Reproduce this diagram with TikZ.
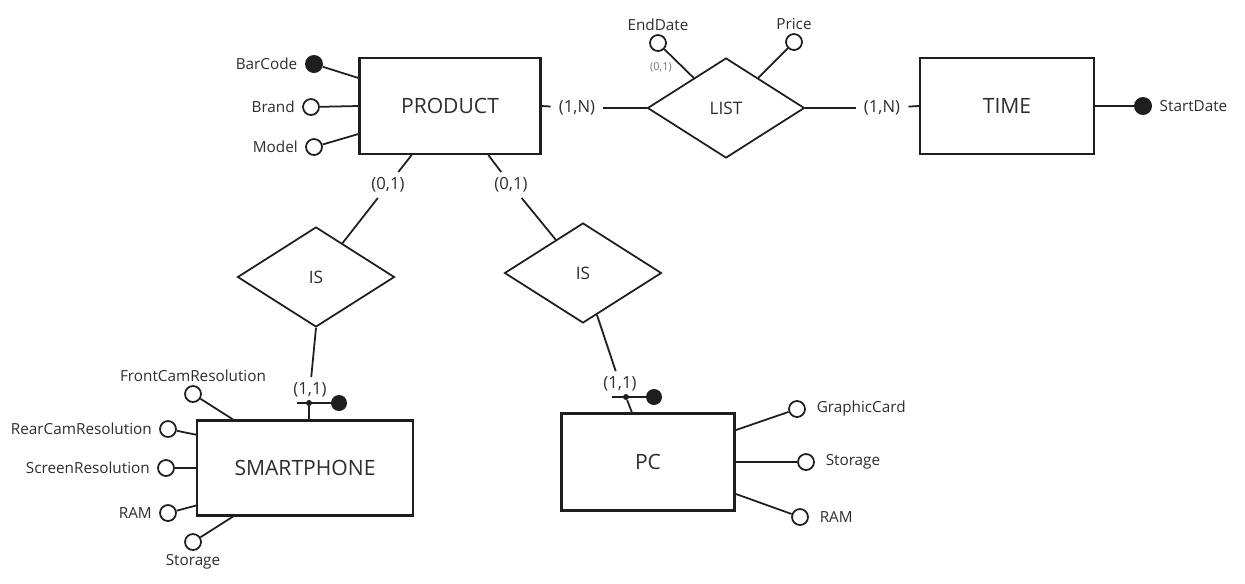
\documentclass[tikz,border=0pt]{standalone}
\usepackage{fontspec}
\setmainfont{Open Sans}
\usetikzlibrary{shapes.geometric,positioning,calc}
\definecolor{inkgray}{RGB}{30,30,30}
\definecolor{textgray}{RGB}{45,45,45}

\begin{document}
\begin{tikzpicture}[x=0.02cm, y=-0.02cm, text=textgray,
    entity/.style={draw=inkgray, line width=1.2pt, inner sep=0pt, font=\fontsize{12}{14}\selectfont},
    relation/.style={draw=inkgray, diamond, line width=1pt, inner sep=0pt,
                     minimum width=3.14cm, minimum height=2cm, font=\fontsize{9.8}{11}\selectfont},
    attr/.style={draw=inkgray, circle, line width=1pt, fill=white, inner sep=0pt, minimum size=0.32cm},
    keyattr/.style={circle, fill=inkgray, inner sep=0pt, minimum size=0.36cm},
    keydot/.style={circle, fill=inkgray, inner sep=0pt, minimum size=0.32cm},
    dot/.style={circle, fill=inkgray, inner sep=0pt, minimum size=0.12cm},
    card/.style={font=\fontsize{9.5}{11}\selectfont, inner xsep=4.5pt, inner ysep=3pt},
    link/.style={draw=inkgray, line width=1pt},
    every label/.style={font=\fontsize{8.7}{10}\selectfont, inner sep=2pt}
  ]
  \useasboundingbox (0,0) rectangle (1245,583);

  % entities and relationships
  \node[entity, minimum width=3.62cm, minimum height=1.92cm] (prod) at (450,106) {PRODUCT};
  \node[entity, minimum width=3.48cm, minimum height=1.92cm] (time) at (1007,106) {TIME};
  \node[entity, minimum width=4.32cm, minimum height=1.9cm] (phone) at (305,468) {SMARTPHONE};
  \node[entity, minimum width=3.46cm, minimum height=1.94cm] (pc) at (648,462) {PC};
  \node[relation] (list) at (726,108) {LIST};
  \node[relation] (isphone) at (316,277) {IS};
  \node[relation] (ispc) at (583,273) {IS};

  % attributes
  \node[keyattr, label={[label distance=2pt]left:BarCode}] (barcode) at (314,64) {};
  \node[attr, label={[label distance=2pt]left:Brand}] (brand) at (311,107) {};
  \node[attr, label={[label distance=2pt]left:Model}] (model) at (314,147) {};
  \node[attr, label=above:EndDate] (enddate) at (658,43) {};
  \node[attr, label=above:Price] (price) at (794,42) {};
  \node[keyattr, label={[label distance=2pt]right:StartDate}] (startdate) at (1143,106) {};
  \node[attr, label=above:FrontCamResolution] (front) at (193,394) {};
  \node[attr, label={[label distance=2pt]left:RearCamResolution}] (rear) at (168,429) {};
  \node[attr, label={[label distance=2pt]left:ScreenResolution}] (screen) at (166,468) {};
  \node[attr, label={[label distance=2pt]left:RAM}] (pram) at (168,513) {};
  \node[attr, label=below:Storage] (pstore) at (193,542) {};
  \node[attr, label={[label distance=4pt]right:GraphicCard}] (gpu) at (797,409) {};
  \node[attr, label={[label distance=4pt]right:Storage}] (cstore) at (806,462) {};
  \node[attr, label={[label distance=4pt]right:RAM}] (cram) at (800,517) {};

  % cardinalities
  \node[card] (c1na) at (577,108) {(1,N)};
  \node[card] (c1nb) at (882,108) {(1,N)};
  \node[card] (c01a) at (388,185) {(0,1)};
  \node[card] (c01b) at (511,185) {(0,1)};
  \node[card] (c11a) at (310,390) {(1,1)};
  \node[card] (c11b) at (620,384) {(1,1)};
  \node[font=\fontsize{6.2}{7}\selectfont, text=gray!90!black] (c01e) at (661,67) {(0,1)};

  % composite identifiers
  \coordinate (ida) at (297,403);
  \node[dot] (sda) at (309,403) {};
  \node[keydot] (kda) at (339,403) {};
  \coordinate (idb) at (612,397);
  \node[dot] (sdb) at (626,397) {};
  \node[keydot] (kdb) at (654,397) {};

  % connectors
  \draw[link] (barcode) -- (prod.163);
  \draw[link] (brand) -- (prod.west);
  \draw[link] (model) -- (prod.197);
  \draw[link] (prod.east) -- (c1na);
  \draw[link] (c1na) -- (list.west);
  \draw[link] (list.east) -- (c1nb);
  \draw[link] (c1nb) -- (time.west);
  \draw[link] (time.east) -- (startdate);
  \draw[link] (enddate) -- (list.137);
  \draw[link] (price) -- (list.43);
  \draw[link] (prod.232) -- (c01a);
  \draw[link] (c01a) -- (isphone);
  \draw[link] (prod.308) -- (c01b);
  \draw[link] (c01b) -- (ispc);
  \draw[link] (isphone.south) -- (c11a);
  \draw[link] (ispc) -- (c11b);
  \draw[link] (ida) -- (kda);
  \draw[link] (sda) -- (sda |- phone.north);
  \draw[link] (idb) -- (kdb);
  \draw[link] (sdb) -- (pc.108);
  \draw[link] (front) -- (phone.146);
  \draw[link] (rear) -- (phone.163);
  \draw[link] (screen) -- (phone.west);
  \draw[link] (pram) -- (phone.199);
  \draw[link] (pstore) -- (phone.214);
  \draw[link] (gpu) -- (pc.20);
  \draw[link] (cstore) -- (pc.east);
  \draw[link] (cram) -- (pc.340);
\end{tikzpicture}
\end{document}
